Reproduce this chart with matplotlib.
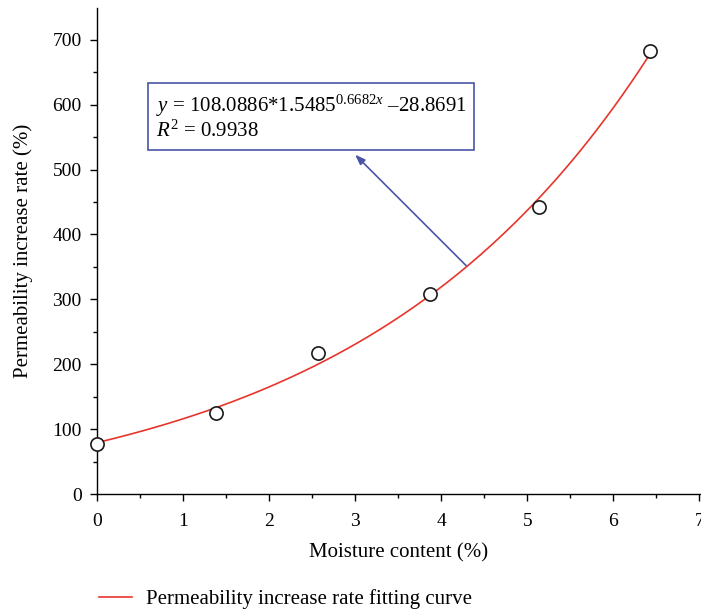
import numpy as np
import matplotlib
matplotlib.use("Agg")
import matplotlib.pyplot as plt

plt.rcParams['font.family'] = ['Liberation Serif', 'DejaVu Serif']
plt.rcParams['mathtext.fontset'] = 'custom'
plt.rcParams['mathtext.rm'] = 'Liberation Serif'
plt.rcParams['mathtext.it'] = 'Liberation Serif:italic'

# measured points
moisture = [0.0, 1.38, 2.57, 3.87, 5.14, 6.43]
perm_rate = [77, 125, 217, 308, 442, 683]

# fitted curve parameters (from the equation in the chart)
fit_a, fit_b, fit_c, fit_d = 108.0886, 1.5485, 0.6682, -28.8691
r_squared = 0.9938

xs = np.linspace(0, 6.43, 200)
ys = fit_a * fit_b ** (fit_c * xs) + fit_d

fig = plt.figure(figsize=(7.01, 6.14), dpi=100)
ax = fig.add_axes([0.1384, 0.1954, 0.8616, 0.7916])

line, = ax.plot(xs, ys, color='#e8352b', lw=1.2, zorder=2,
                label='Permeability increase rate fitting curve')
ax.plot(moisture, perm_rate, 'o', ms=9.5, mfc='white', mec='#1a1a1a',
        mew=1.2, zorder=3, clip_on=False)

ax.set_xlim(0, 7.02)
ax.set_ylim(0, 749)
ax.set_xticks(range(0, 8))
ax.set_yticks(range(0, 800, 100))
ax.set_xticks(np.arange(0.5, 7, 1), minor=True)
ax.set_yticks(np.arange(50, 750, 100), minor=True)
ax.tick_params(which='major', direction='out', length=5, width=1, labelsize=14)
ax.tick_params(axis='x', which='major', pad=9)
ax.tick_params(axis='y', which='major', pad=6)
ax.tick_params(which='minor', direction='out', length=3, width=1)
for s in ['top', 'right']:
    ax.spines[s].set_visible(False)
for s in ['left', 'bottom']:
    ax.spines[s].set_linewidth(1)

ax.set_xlabel('Moisture content (%)', fontsize=15, labelpad=9)
ax.set_ylabel('Permeability increase rate (%)', fontsize=15, labelpad=14)

# equation box
box_col = '#4a55a8'
eq = (r'$y$ = 108.0886*1.5485$^{0.6682x}$ ' + '\u201328.8691'
      + '\n' + r'$R^2$ = ' + f'{r_squared:.4f}')
ax.text(0.68, 580, eq, fontsize=15, va='center', ha='left', linespacing=1.1,
        bbox=dict(boxstyle='square,pad=0.38', fc='white', ec=box_col, lw=1.2))

ax.annotate('', xy=(3.0, 523), xytext=(4.29, 352),
            arrowprops=dict(arrowstyle='-|>,head_length=0.6,head_width=0.22',
                            color=box_col, lw=1.2, shrinkA=0, shrinkB=0))

fig.legend(handles=[line], loc='center left', bbox_to_anchor=(0.114, 1 - 599 / 614),
           frameon=False, fontsize=15, handlelength=1.6, handletextpad=0.67)

fig.savefig('out.png', dpi=100)
